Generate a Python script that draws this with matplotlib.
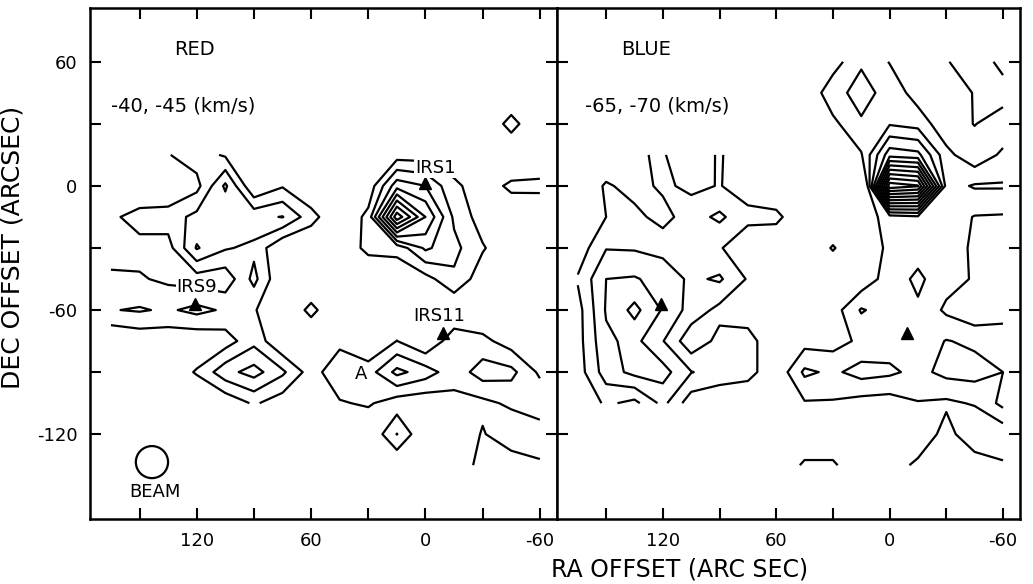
import numpy as np
import matplotlib
matplotlib.use("Agg")
import matplotlib.pyplot as plt
from matplotlib.patches import Ellipse

plt.rcParams['font.family'] = ['DejaVu Sans']

# grid of the maps (arcsec)
ra_grid = [165, 150, 135, 120, 105, 90, 75, 60, 45, 30, 15, 0, -15, -30, -45, -60]
dec_grid = [60, 45, 30, 15, 0, -15, -30, -45, -60, -75, -90, -105, -120, -135]
N = None

# RED map (-40,-45 km/s), one list per declination row (RA 165 ... -60)
red_p60 = [N]*16
red_p45 = [N]*13 + [0, 0, 0]
red_p30 = [N]*13 + [0, 1.4, 0]
red_p15 = [0, 0, 0.95, 1.5, 0.86, 0, 0, 0, 0, 0, 0.5, 0.5, 0.4, 0, 0, 0]
red_0 = [0, 0, 0, 0.66, 3.2, 0, 0.9, 0, 0, 0.3, 3.6, 3.0, 1.2, 0.5, 1.2, 1.3]
red_m15 = [0.8, 1.4, 1.5, 2.3, 2.1, 2.7, 3.05, 1.4, 0, 1.3, 8.7, 5.0, 1.8, 0.5, 0.3, 0]
red_m30 = [0.3, 0.68, 0.6, 3.1, 2.1, 1.76, 0, 0, 0.2, 1.3, 1.3, 3.2, 2.3, 1.1, 0.2, 0]
red_m45 = [1.3, 1.1, 0.8, 0.5, 0.35, 2.3, 0, 0, 0, 0, 0.3, 0.6, 1.8, 0.4, 0, 0]
red_m60 = [1.95, 2.1, 1.85, 2.3, 1.85, 1.1, 0, 1.3, 0, 0, 0, 0, 0, 0, 0, 0]
red_m75 = [0, 0.27, 0.3, 0.2, 0.5, 1.7, 0, 0, 0.7, 0, 1.02, 0, 1.67, 1.3, 0.48, 0]
red_m90 = [0, 0, 0.3, 1.1, 2.65, 3.4, 2.2, 0.5, 1.8, 1.53, 3.3, 2.5, 1.4, 2.5, 2.3, 0.8]
red_m105 = [0, 0, 0, 0, 0.2, 1.15, 0.4, 0, 0.9, 1.15, 0.4, 0.25, 0.71, 0.73, 1.2, 1.8]
red_m120 = [N]*8 + [0, 0, 2.03, 0, 0, 1.1, 0.2, 0.3]
red_m135 = [N]*8 + [0, 0, 0, 0, 0.3, 1.35, 1.7, 1.175]

# BLUE map (-65,-70 km/s)
blue_p60 = [N]*8 + [0, 0.5, 1.9, 0.95, 0, 0.95, 1.4, 2.3]
blue_p45 = [N]*8 + [0, 1.7, 2.3, 1.7, 0.5, 0, 1.1, 1.6]
blue_p30 = [N]*8 + [0, 0.73, 1.9, 1.9, 1.6, 0.3, 1.05, 0.3]
blue_p15 = [0, 0, 0.9, 1.1, 0.2, 1.15, 0, 0, 0, 0.3, 0.9, 4.6, 4.3, 1.3, 0.3, 1.2]
blue_0 = [0, 1.15, 0.6, 1.2, 0.75, 1.05, 0.5, 0, 0, 0.3, -2.0, 11.7, 11.1, 1.6, 2.1, 2.1]
blue_m15 = [0.3, 1.0, 1.3, 0.6, 1.6, 2.2, 1.3, 1.3, 0, 0, 0.3, 1.5, 1.8, 1.5, 0.95, 0.9]
blue_m30 = [0.4, 1.95, 1.9, 1.7, 1.3, 1.1, 0.2, 0, 0, 1.1, 0, 1.3, 1.6, 1.3, 0.9, 0]
blue_m45 = [1.1, 3.0, 3.1, 2.6, 1.8, 2.15, 0.9, 0, 0, 0, 0.3, 1.5, 2.2, 1.4, 0.9, 0]
blue_m60 = [0.6, 3.1, 4.3, 2.9, 1.6, 0.7, 0.3, 0, 0, 0.5, 2.1, 1.5, 1.85, 0.8, 0.2, 0.3]
blue_m75 = [0.6, 2.8, 3.3, 2.05, 0.3, 1.3, 1.5, 0, 0.6, 0.6, 1.2, 1.5, 1.4, 2.05, 1.8, 1.9]
blue_m90 = [0.5, 2.5, 3.3, 3.4, 2.05, 1.5, 1.4, 0.2, 2.2, 1.8, 2.4, 2.2, 1.7, 2.3, 2.4, 2.0]
blue_m105 = [0, 1.2, 0.7, 2.3, 0.4, 0.3, 0, 0, 0.9, 0.9, 0.6, 0.5, 0.95, 0.8, 1.1, 2.3]
blue_m120 = [N]*7 + [0, 0, 0, 0, 0, 0, 1.5, 0, 0.3]
blue_m135 = [N]*7 + [0, 1.2, 1.2, 0, 0.3, 1.3, 1.8, 1.75, 1.13]

red_levels = [1, 2, 3, 4, 5, 6, 7, 8]
blue_levels = [1, 2, 3, 4, 5, 6, 7, 8, 9, 10, 11]

# source positions (RA, Dec)
src_names = ['IRS1', 'IRS9', 'IRS11']
src_ra = [0.5, 121, -9]
src_dec = [1.5, -57, -71]

xticks = [150, 120, 90, 60, 30, 0, -30, -60]
xlabels = ['', '120', '', '60', '', '0', '', '-60']
yticks = [60, 30, 0, -30, -60, -90, -120]
ylabels = ['60', '', '0', '', '-60', '', '-120']

red_rows = [red_p60, red_p45, red_p30, red_p15, red_0, red_m15, red_m30, red_m45,
            red_m60, red_m75, red_m90, red_m105, red_m120, red_m135]
blue_rows = [blue_p60, blue_p45, blue_p30, blue_p15, blue_0, blue_m15, blue_m30, blue_m45,
             blue_m60, blue_m75, blue_m90, blue_m105, blue_m120, blue_m135]
red_z = np.ma.masked_invalid(np.array(red_rows, dtype=float))
blue_z = np.ma.masked_invalid(np.array(blue_rows, dtype=float))
X, Y = np.meshgrid(np.array(ra_grid, float), np.array(dec_grid, float))

W, H = 1033, 584
fig = plt.figure(figsize=(W / 100, H / 100), dpi=100)
axL = fig.add_axes([90 / W, 1 - 519 / H, 467 / W, 511 / H])
axR = fig.add_axes([557 / W, 1 - 519 / H, 463 / W, 511 / H])

for ax, z, lev in [(axL, red_z, red_levels), (axR, blue_z, blue_levels)]:
    ax.contour(X, Y, z, levels=lev, colors='k', linewidths=1.6, corner_mask=False)
    ax.set_xlim(176, -69)
    ax.set_ylim(-161, 86)
    ax.set_xticks(xticks)
    ax.set_yticks(yticks)
    ax.tick_params(direction='in', length=8, width=1.5, top=True, right=True,
                   labelsize=13, pad=9)
    for s in ax.spines.values():
        s.set_linewidth(1.8)
    ax.plot(src_ra[1:], src_dec[1:], '^', color='k', ms=9)

axL.set_xticklabels(xlabels)
axL.set_yticklabels(ylabels)
axR.set_xticklabels(xlabels)
axR.set_yticklabels([])
axL.plot([src_ra[0]], [src_dec[0]], '^', color='k', ms=9)

tkw = dict(fontsize=14, color='k')
axL.text(132, 66, 'RED', ha='left', va='center', **tkw)
axL.text(165, 38.5, '-40, -45 (km/s)', ha='left', va='center', **tkw)
axR.text(142, 66, 'BLUE', ha='left', va='center', **tkw)
axR.text(161, 38.5, '-65, -70 (km/s)', ha='left', va='center', **tkw)

lkw = dict(fontsize=13, color='k', ha='center', va='center',
           bbox=dict(facecolor='white', edgecolor='none', pad=0.5))
axL.text(-5, 8.5, 'IRS1', **lkw)
axL.text(120, -49, 'IRS9', **lkw)
axL.text(-7, -63, 'IRS11', **lkw)
axL.text(34, -91, 'A', fontsize=13, ha='center', va='center')
axL.add_patch(Ellipse((143.5, -133.5), 16.9, 15.5, fill=False, lw=1.6, ec='k'))
axL.text(142, -148, 'BEAM', fontsize=13, ha='center', va='center')

fig.text(680 / W, 1 - 570 / H, 'RA OFFSET (ARC SEC)', ha='center', va='center', fontsize=17)
fig.text(13 / W, 1 - 247 / H, 'DEC OFFSET (ARCSEC)', ha='center', va='center',
         fontsize=18, rotation=90)

fig.savefig('out.png', dpi=100)
